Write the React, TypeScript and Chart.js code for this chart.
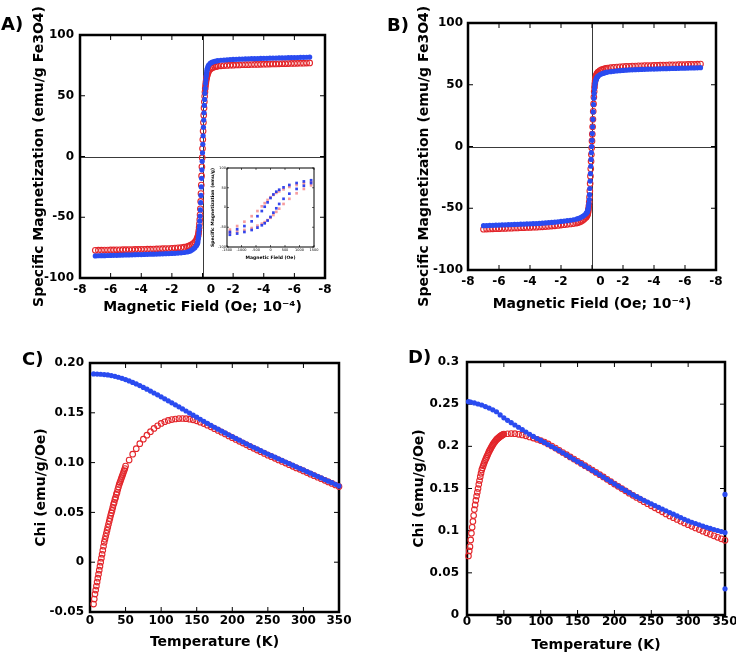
import React, { useEffect, useRef } from 'react';
import { Chart, registerables } from 'chart.js';

Chart.register(...registerables);

const FONT = 'DejaVu Sans';
const BLUE = '#2a4bf0';
const RED = '#e3262b';
const RED_INSET = 'rgba(240,90,95,0.6)';
const BLUE_INSET = 'rgba(30,50,235,0.9)';

// ---------- Panels A and B: field (x 10^4 Oe) ----------
const FIELD = [
  -7.0, -6.8, -6.6, -6.4, -6.2, -6.0, -5.8, -5.6, -5.4, -5.2, -5.0, -4.8, -4.6, -4.4, -4.2, -4.0,
  -3.8, -3.6, -3.4, -3.2, -3.0, -2.8, -2.6, -2.4, -2.2, -2.0, -1.8, -1.6, -1.4, -1.2, -1.0,
  -0.9, -0.8, -0.7, -0.6, -0.5, -0.4, -0.36, -0.32,
  -0.3, -0.28, -0.26, -0.24, -0.22, -0.2, -0.18, -0.16, -0.14, -0.12, -0.1, -0.08, -0.06, -0.04, -0.02,
  0, 0.02, 0.04, 0.06, 0.08, 0.1, 0.12, 0.14, 0.16, 0.18, 0.2, 0.22, 0.24, 0.26, 0.28, 0.3,
  0.32, 0.36, 0.4, 0.5, 0.6, 0.7, 0.8, 0.9,
  1.0, 1.2, 1.4, 1.6, 1.8, 2.0, 2.2, 2.4, 2.6, 2.8, 3.0, 3.2, 3.4, 3.6, 3.8, 4.0,
  4.2, 4.4, 4.6, 4.8, 5.0, 5.2, 5.4, 5.6, 5.8, 6.0, 6.2, 6.4, 6.6, 6.8, 7.0,
];

const A_BLUE = [
  -81.8, -81.7, -81.6, -81.6, -81.5, -81.4, -81.3, -81.3, -81.2, -81.1, -81.0, -81.0, -80.9, -80.8, -80.7, -80.7,
  -80.6, -80.5, -80.4, -80.4, -80.3, -80.2, -80.1, -80.0, -79.9, -79.8, -79.7, -79.5, -79.3, -79.0, -78.6,
  -78.2, -77.7, -77.0, -76.1, -75.0, -73.4, -72.5, -71.3,
  -70, -68, -66, -63, -60, -57, -53, -49, -44, -38, -32, -25, -18, -11, -4,
  3, 10, 17, 24, 30, 36, 42, 47, 52, 56, 60, 63, 66, 68, 70, 71.5,
  72.6, 74.2, 75.3, 76.6, 77.4, 77.9, 78.3, 78.6,
  78.9, 79.2, 79.4, 79.6, 79.8, 79.9, 80.0, 80.1, 80.2, 80.3, 80.4, 80.5, 80.5, 80.6, 80.7, 80.8,
  80.8, 80.9, 81.0, 81.0, 81.1, 81.2, 81.2, 81.3, 81.4, 81.4, 81.5, 81.6, 81.6, 81.7, 81.8,
];

const A_RED = [
  -77.2, -77.1, -77.1, -77.0, -77.0, -76.9, -76.9, -76.8, -76.8, -76.7, -76.7, -76.6, -76.6, -76.5, -76.5, -76.4,
  -76.4, -76.3, -76.3, -76.2, -76.1, -76.0, -75.9, -75.8, -75.7, -75.6, -75.4, -75.2, -75.0, -74.6, -74.1,
  -73.7, -73.2, -72.5, -71.6, -70.4, -68.8, -67.8, -66.6,
  -65.8, -64.6, -63, -61, -58.5, -55.5, -52, -48, -43, -37, -30.5, -23.5, -16, -8.5, -1,
  6.5, 14, 21, 28, 34, 40, 45, 49.5, 53, 56, 58.5, 60.8, 62.6, 64.2, 65.5, 66.6,
  67.5, 69.0, 70.2, 71.8, 72.8, 73.4, 73.8, 74.1,
  74.4, 74.6, 74.8, 75.0, 75.1, 75.2, 75.3, 75.4, 75.5, 75.6, 75.6, 75.7, 75.8, 75.8, 75.9, 76.0,
  76.0, 76.1, 76.2, 76.2, 76.3, 76.4, 76.4, 76.5, 76.6, 76.6, 76.7, 76.8, 76.8, 76.9, 77.0,
];

const B_BLUE = [
  -64.1, -64.0, -63.9, -63.8, -63.7, -63.6, -63.5, -63.4, -63.3, -63.2, -63.1, -63.0, -62.9, -62.8, -62.7, -62.6,
  -62.5, -62.4, -62.3, -62.1, -61.9, -61.7, -61.5, -61.3, -61.0, -60.7, -60.4, -60.1, -59.7, -59.3, -58.8,
  -58.4, -57.9, -57.3, -56.6, -55.7, -54.6, -54.0, -53.3,
  -52.8, -52, -51, -49.8, -48.2, -46, -43, -39, -34, -28, -22, -16, -10.5, -5, 0,
  5, 10.5, 16, 22, 28, 34, 39, 43, 46.5, 49, 51, 52.3, 53.3, 54.1, 54.8, 55.3,
  55.8, 56.5, 57.1, 58.0, 58.7, 59.2, 59.6, 60.0,
  60.3, 60.6, 60.9, 61.2, 61.4, 61.6, 61.8, 62.0, 62.1, 62.2, 62.3, 62.4, 62.5, 62.6, 62.7, 62.7,
  62.8, 62.9, 63.0, 63.0, 63.1, 63.2, 63.2, 63.3, 63.4, 63.4, 63.5, 63.6, 63.6, 63.7, 63.8,
];

const B_RED = [
  -67.0, -66.9, -66.8, -66.7, -66.6, -66.5, -66.4, -66.3, -66.2, -66.1, -66.0, -65.9, -65.8, -65.7, -65.6, -65.5,
  -65.4, -65.3, -65.2, -65.0, -64.8, -64.6, -64.4, -64.2, -63.9, -63.6, -63.3, -63.0, -62.7, -62.4, -62.0,
  -61.6, -61.1, -60.5, -59.7, -58.8, -57.5, -56.8, -55.9,
  -55.3, -54.5, -53.4, -52, -50.2, -48, -45, -41, -36, -30, -24, -18, -12, -6.5, -1,
  4.5, 10, 16, 22, 28.5, 34.5, 40, 44.5, 48, 50.8, 53, 54.6, 55.8, 56.8, 57.6, 58.2,
  58.8, 59.6, 60.3, 61.3, 62.0, 62.5, 62.9, 63.2,
  63.5, 63.8, 64.1, 64.3, 64.5, 64.7, 64.9, 65.0, 65.1, 65.2, 65.3, 65.4, 65.5, 65.6, 65.6, 65.7,
  65.8, 65.9, 65.9, 66.0, 66.1, 66.1, 66.2, 66.3, 66.3, 66.4, 66.5, 66.5, 66.6, 66.7, 66.8,
];

// ---------- Inset of panel A (Oe, emu/g) ----------
const INSET_FIELD_DOWN = [1400, 1150, 900, 650, 450, 300, 200, 100, 0, -100, -200, -300, -450, -650, -900, -1150, -1400];
const INSET_FIELD_UP = [-1400, -1150, -900, -650, -450, -300, -200, -100, 0, 100, 200, 300, 450, 650, 900, 1150, 1400];
const INSET_BLUE_DOWN = [69, 66, 62, 57, 51, 45, 40, 33, 24, 13, 2, -9, -22, -35, -47, -55, -62];
const INSET_BLUE_UP = [-69, -66, -62, -57, -51, -45, -40, -33, -24, -13, -2, 9, 22, 35, 47, 55, 62];
const INSET_RED_DOWN = [64, 61, 57, 52, 46, 41, 37, 32, 26, 19, 11, 3, -9, -22, -36, -47, -56];
const INSET_RED_UP = [-64, -61, -57, -52, -46, -41, -37, -32, -26, -19, -11, -3, 9, 22, 36, 47, 56];

// ---------- Panel C (Temperature K, chi) ----------
const C_T_FC = [
  5, 10, 15, 20, 25, 30, 35, 40, 45, 50, 55, 60, 65, 70, 75, 80, 85, 90, 95, 100,
  105, 110, 115, 120, 125, 130, 135, 140, 145, 150, 155, 160, 165, 170, 175, 180, 185, 190, 195, 200,
  205, 210, 215, 220, 225, 230, 235, 240, 245, 250, 255, 260, 265, 270, 275, 280, 285, 290, 295, 300,
  305, 310, 315, 320, 325, 330, 335, 340, 345, 350,
];
const C_FC = [
  0.1890, 0.1889, 0.1887, 0.1884, 0.1880, 0.1874, 0.1866, 0.1857, 0.1846, 0.1834,
  0.1820, 0.1805, 0.1790, 0.1773, 0.1755, 0.1737, 0.1718, 0.1699, 0.1680, 0.1660,
  0.1640, 0.1620, 0.1600, 0.1580, 0.1560, 0.1539, 0.1518, 0.1497, 0.1476, 0.1456,
  0.1435, 0.1414, 0.1394, 0.1374, 0.1355, 0.1336, 0.1317, 0.1298, 0.1279, 0.1261,
  0.1243, 0.1225, 0.1207, 0.1189, 0.1171, 0.1154, 0.1137, 0.1120, 0.1103, 0.1086,
  0.1070, 0.1054, 0.1038, 0.1022, 0.1006, 0.0990, 0.0974, 0.0958, 0.0942, 0.0926,
  0.0910, 0.0894, 0.0878, 0.0862, 0.0846, 0.0830, 0.0814, 0.0798, 0.0782, 0.0766,
];
const C_T_ZFC = [
  5, 6, 7, 8, 9, 10, 11, 12, 13, 14, 15, 16, 17, 18, 19, 20, 21, 22, 23, 24,
  25, 26, 27, 28, 29, 30, 31, 32, 33, 34, 35, 36, 37, 38, 39, 40, 41, 42, 43, 44,
  45, 46, 47, 48, 49, 50,
  55, 60, 65, 70, 75, 80, 85, 90, 95, 100, 105, 110, 115, 120, 125, 130, 135, 140, 145, 150,
  155, 160, 165, 170, 175, 180, 185, 190, 195, 200, 205, 210, 215, 220, 225, 230, 235, 240, 245, 250,
  255, 260, 265, 270, 275, 280, 285, 290, 295, 300, 305, 310, 315, 320, 325, 330, 335, 340, 345, 350,
];
const C_ZFC = [
  -0.042, -0.037, -0.032, -0.028, -0.024, -0.020, -0.016, -0.012, -0.008, -0.004,
  0.000, 0.004, 0.008, 0.012, 0.016, 0.020, 0.023, 0.026, 0.029, 0.032,
  0.035, 0.038, 0.041, 0.044, 0.047, 0.0495, 0.052, 0.055, 0.058, 0.060,
  0.063, 0.065, 0.068, 0.070, 0.073, 0.0755, 0.078, 0.080, 0.082, 0.084,
  0.086, 0.088, 0.090, 0.092, 0.094, 0.0965,
  0.1025, 0.1085, 0.1140, 0.1190, 0.1235, 0.1275, 0.1310, 0.1343, 0.1370, 0.1393,
  0.1410, 0.1423, 0.1432, 0.1438, 0.1442, 0.1443, 0.1441, 0.1436, 0.1429, 0.1419,
  0.1406, 0.1392, 0.1376, 0.1359, 0.1341, 0.1323, 0.1305, 0.1287, 0.1268, 0.1250,
  0.1232, 0.1214, 0.1196, 0.1178, 0.1160, 0.1143, 0.1126, 0.1109, 0.1092, 0.1075,
  0.1059, 0.1043, 0.1027, 0.1011, 0.0995, 0.0979, 0.0963, 0.0947, 0.0932, 0.0916,
  0.0900, 0.0884, 0.0869, 0.0853, 0.0838, 0.0822, 0.0806, 0.0791, 0.0775, 0.0759,
];

// ---------- Panel D (Temperature K, chi) ----------
const D_T_FC = [
  2, 5, 10, 15, 20, 25, 30, 35, 40, 45, 50, 55, 60, 65, 70, 75, 80, 85, 90, 95, 100,
  105, 110, 115, 120, 125, 130, 135, 140, 145, 150, 155, 160, 165, 170, 175, 180, 185, 190, 195, 200,
  205, 210, 215, 220, 225, 230, 235, 240, 245, 250, 255, 260, 265, 270, 275, 280, 285, 290, 295, 300,
  305, 310, 315, 320, 325, 330, 335, 340, 345, 350, 350, 350,
];
const D_FC = [
  0.2530, 0.2525, 0.2515, 0.2502, 0.2490, 0.2472, 0.2454, 0.2433, 0.2410, 0.2373, 0.2338,
  0.2308, 0.2280, 0.2253, 0.2226, 0.2198, 0.2170, 0.2143, 0.2117, 0.2093, 0.2070,
  0.2046, 0.2022, 0.1998, 0.1974, 0.1950, 0.1924, 0.1898, 0.1872, 0.1846, 0.1820,
  0.1794, 0.1768, 0.1742, 0.1716, 0.1690, 0.1663, 0.1636, 0.1609, 0.1582, 0.1555,
  0.1529, 0.1503, 0.1477, 0.1451, 0.1425, 0.1403, 0.1382, 0.1360, 0.1339, 0.1318,
  0.1297, 0.1277, 0.1256, 0.1236, 0.1215, 0.1195, 0.1175, 0.1155, 0.1135, 0.1116,
  0.1100, 0.1085, 0.1070, 0.1055, 0.1040, 0.1027, 0.1014, 0.1002, 0.0989, 0.0977, 0.143, 0.031,
];
const D_T_ZFC = [
  2, 3, 4, 5, 6, 7, 8, 9, 10, 11, 12, 13, 14, 15, 16, 17, 18, 19, 20, 21,
  22, 23, 24, 25, 26, 27, 28, 29, 30, 31, 32, 33, 34, 35, 36, 37, 38, 39, 40, 41,
  42, 43, 44, 45, 46, 47, 48, 49, 50,
  55, 60, 65, 70, 75, 80, 85, 90, 95, 100, 105, 110, 115, 120, 125, 130, 135, 140, 145, 150,
  155, 160, 165, 170, 175, 180, 185, 190, 195, 200, 205, 210, 215, 220, 225, 230, 235, 240, 245, 250,
  255, 260, 265, 270, 275, 280, 285, 290, 295, 300, 305, 310, 315, 320, 325, 330, 335, 340, 345, 350,
];
const D_ZFC = [
  0.070, 0.076, 0.081, 0.089, 0.097, 0.104, 0.111, 0.118, 0.125, 0.1305,
  0.136, 0.141, 0.1455, 0.150, 0.155, 0.1595, 0.164, 0.168, 0.172, 0.1745,
  0.177, 0.1795, 0.182, 0.184, 0.186, 0.188, 0.190, 0.192, 0.194, 0.1956,
  0.1972, 0.1988, 0.2004, 0.202, 0.2033, 0.2045, 0.2057, 0.2069, 0.208, 0.2088,
  0.2096, 0.2103, 0.211, 0.2117, 0.2123, 0.2129, 0.2135, 0.214, 0.2145,
  0.2149, 0.2151, 0.2150, 0.2142, 0.2135, 0.2125, 0.2112, 0.2098, 0.2083, 0.2068,
  0.2050, 0.2028, 0.2004, 0.1979, 0.1953, 0.1927, 0.1901, 0.1875, 0.1849, 0.1823,
  0.1797, 0.1771, 0.1745, 0.1718, 0.1691, 0.1664, 0.1637, 0.1609, 0.1581, 0.1553,
  0.1526, 0.1499, 0.1472, 0.1445, 0.1419, 0.1394, 0.1369, 0.1344, 0.1319, 0.1295,
  0.1271, 0.1247, 0.1223, 0.1199, 0.1175, 0.1154, 0.1133, 0.1112, 0.1091, 0.1070,
  0.1051, 0.1032, 0.1013, 0.0994, 0.0975, 0.0957, 0.0939, 0.0921, 0.0903, 0.0885,
];

// ---------- helpers ----------
function pts(xs: number[], ys: number[]) {
  const n = Math.min(xs.length, ys.length);
  const out: { x: number; y: number }[] = [];
  for (let i = 0; i < n; i++) out.push({ x: xs[i], y: ys[i] });
  return out;
}

function filled(data: any, color: string, r: number, style = 'circle') {
  return {
    data, showLine: false, clip: false, pointStyle: style, pointRadius: r,
    pointBackgroundColor: color, pointBorderColor: color, pointBorderWidth: 0,
  };
}
function ring(data: any, color: string, r: number, w: number) {
  return {
    data, showLine: false, clip: false, pointStyle: 'circle', pointRadius: r,
    pointBackgroundColor: 'rgba(255,255,255,0)', pointBorderColor: color, pointBorderWidth: w,
  };
}

const framePlugin = {
  id: 'frame',
  beforeDatasetsDraw(chart: any, _args: any, o: any) {
    const { ctx, chartArea: a } = chart;
    const x = chart.scales.x;
    const y = chart.scales.y;
    ctx.save();
    if (o.zero) {
      ctx.strokeStyle = '#3a3a3a';
      ctx.lineWidth = 1;
      ctx.beginPath();
      const px = Math.round(x.getPixelForValue(0)) + 0.5;
      const py = Math.round(y.getPixelForValue(0)) + 0.5;
      ctx.moveTo(px, a.top); ctx.lineTo(px, a.bottom);
      ctx.moveTo(a.left, py); ctx.lineTo(a.right, py);
      ctx.stroke();
    }
    ctx.strokeStyle = '#000';
    ctx.lineWidth = o.tickWidth;
    ctx.beginPath();
    for (const t of x.ticks) {
      const p = x.getPixelForValue(t.value);
      ctx.moveTo(p, a.bottom); ctx.lineTo(p, a.bottom - o.tickLen);
      ctx.moveTo(p, a.top); ctx.lineTo(p, a.top + o.tickLen);
    }
    for (const t of y.ticks) {
      const p = y.getPixelForValue(t.value);
      ctx.moveTo(a.left, p); ctx.lineTo(a.left + o.tickLen, p);
      ctx.moveTo(a.right, p); ctx.lineTo(a.right - o.tickLen, p);
    }
    ctx.stroke();
    ctx.lineWidth = o.border;
    ctx.strokeRect(a.left, a.top, a.right - a.left, a.bottom - a.top);
    ctx.restore();
  },
};

function xAxis(o: any) {
  return {
    type: 'linear', position: 'bottom', min: o.min, max: o.max,
    grid: { display: false, drawTicks: false, tickLength: 0 }, border: { display: false },
    ticks: {
      stepSize: o.step, autoSkip: false, maxRotation: 0, minRotation: 0, padding: o.tickPad,
      color: '#000', font: { family: FONT, size: o.tickSize, weight: o.tickWeight || 'bold' }, callback: o.fmt,
    },
    title: {
      display: true, text: o.title, color: '#000',
      font: { family: FONT, size: o.titleSize, weight: 'bold' }, padding: { top: 0, bottom: o.titlePad },
    },
    afterFit: (s: any) => { s.height = o.size; s.paddingLeft = 0; s.paddingRight = 0; },
  };
}
function yAxis(o: any) {
  return {
    type: 'linear', position: 'left', min: o.min, max: o.max,
    grid: { display: false, drawTicks: false, tickLength: 0 }, border: { display: false },
    ticks: {
      stepSize: o.step, autoSkip: false, padding: o.tickPad,
      color: '#000', font: { family: FONT, size: o.tickSize, weight: o.tickWeight || 'bold' }, callback: o.fmt,
    },
    title: {
      display: true, text: o.title, color: '#000',
      font: { family: FONT, size: o.titleSize, weight: 'bold' }, padding: { top: o.titlePad, bottom: 0 },
    },
    afterFit: (s: any) => { s.width = o.size; s.paddingTop = 0; s.paddingBottom = 0; },
  };
}

function config(datasets: any[], x: any, y: any, padding: any, frame: any) {
  return {
    type: 'scatter',
    data: { datasets },
    options: {
      responsive: false, animation: false, events: [],
      layout: { padding },
      plugins: { legend: { display: false }, tooltip: { enabled: false }, frame },
      scales: { x, y },
    },
    plugins: [framePlugin],
  };
}

const fieldFmt = (v: number) => (v === 0 ? '    0' : '-' + Math.abs(v));
const plainFmt = (v: number) => String(v);
const chiFmt2 = (v: number) => (Math.abs(v) < 1e-9 ? '0' : v.toFixed(2));
const chiFmt = (v: number) => (Math.abs(v) < 1e-9 ? '0' : String(Math.round(v * 100) / 100));

const X_TITLE_FIELD = 'Magnetic Field (Oe; 10\u207B\u2074)';
const Y_TITLE_MAG = 'Specific Magnetization (emu/g Fe3O4)';

function makeA() {
  return config(
    [filled(pts(FIELD, A_BLUE), BLUE, 2.6), ring(pts(FIELD, A_RED), RED, 2.8, 1.1)],
    xAxis({ min: -8, max: 8, step: 2, tickPad: 5, tickSize: 12, fmt: fieldFmt, title: X_TITLE_FIELD, titleSize: 14, titlePad: 4, size: 42 }),
    yAxis({ min: -100, max: 100, step: 50, tickPad: 6, tickSize: 12, fmt: plainFmt, title: Y_TITLE_MAG, titleSize: 14, titlePad: 31, size: 80 }),
    { left: 0, top: 35, right: 43, bottom: 0 },
    { zero: true, border: 2.5, tickLen: 5, tickWidth: 1 },
  );
}

function makeInset() {
  return config(
    [
      filled(pts(INSET_FIELD_DOWN, INSET_BLUE_DOWN), BLUE_INSET, 1.9, 'rect'),
      filled(pts(INSET_FIELD_UP, INSET_BLUE_UP), BLUE_INSET, 1.9, 'rect'),
      filled(pts(INSET_FIELD_DOWN, INSET_RED_DOWN), RED_INSET, 1.9, 'rect'),
      filled(pts(INSET_FIELD_UP, INSET_RED_UP), RED_INSET, 1.9, 'rect'),
    ],
    xAxis({ min: -1500, max: 1500, step: 500, tickPad: 1.4, tickSize: 3.5, tickWeight: 'normal', fmt: plainFmt, title: 'Magnetic Field (Oe)', titleSize: 4.5, titlePad: 3.8, size: 17 }),
    yAxis({ min: -100, max: 100, step: 50, tickPad: 1, tickSize: 3.5, tickWeight: 'normal', fmt: plainFmt, title: 'Specific Magnetization (emu/g)', titleSize: 4.5, titlePad: 10.3, size: 27 }),
    { left: 0, top: 8, right: 8, bottom: 0 },
    { zero: false, border: 1, tickLen: 2, tickWidth: 0.6 },
  );
}

function makeB() {
  return config(
    [filled(pts(FIELD, B_BLUE), BLUE, 2.6), ring(pts(FIELD, B_RED), RED, 2.8, 1.1)],
    xAxis({ min: -8, max: 8, step: 2, tickPad: 5, tickSize: 12, fmt: fieldFmt, title: X_TITLE_FIELD, titleSize: 14, titlePad: 7, size: 50 }),
    yAxis({ min: -100, max: 100, step: 50, tickPad: 5, tickSize: 12, fmt: plainFmt, title: Y_TITLE_MAG + '    ', titleSize: 14, titlePad: 48, size: 100 }),
    { left: 0, top: 23, right: 20, bottom: 0 },
    { zero: true, border: 2.5, tickLen: 5, tickWidth: 1 },
  );
}

function makeC() {
  return config(
    [filled(pts(C_T_FC, C_FC), BLUE, 2.6), ring(pts(C_T_ZFC, C_ZFC), RED, 2.8, 1.1)],
    xAxis({ min: 0, max: 350, step: 50, tickPad: 2, tickSize: 12, fmt: plainFmt, title: 'Temperature (K)', titleSize: 14, titlePad: 3, size: 42 }),
    yAxis({ min: -0.05, max: 0.2, step: 0.05, tickPad: 6, tickSize: 12, fmt: chiFmt2, title: 'Chi (emu/g/Oe)', titleSize: 14, titlePad: 33, size: 90 }),
    { left: 0, top: 43, right: 29, bottom: 0 },
    { zero: false, border: 2.5, tickLen: 5, tickWidth: 1 },
  );
}

function makeD() {
  return config(
    [filled(pts(D_T_FC, D_FC), BLUE, 2.6), ring(pts(D_T_ZFC, D_ZFC), RED, 2.8, 1.1)],
    xAxis({ min: 0, max: 350, step: 50, tickPad: 0, tickSize: 12, fmt: plainFmt, title: 'Temperature (K)', titleSize: 14, titlePad: 0, size: 39 }),
    yAxis({ min: 0, max: 0.3, step: 0.05, tickPad: 8, tickSize: 12, fmt: chiFmt, title: 'Chi (emu/g/Oe)', titleSize: 14, titlePad: 43, size: 99 }),
    { left: 0, top: 42, right: 11, bottom: 0 },
    { zero: false, border: 2.5, tickLen: 5, tickWidth: 1 },
  );
}

function Panel({ left, top, width, height, make }: any) {
  const ref = useRef<HTMLCanvasElement>(null);
  useEffect(() => {
    const chart = new Chart(ref.current as HTMLCanvasElement, make() as any);
    return () => chart.destroy();
  }, []);
  return (
    <canvas
      ref={ref}
      width={width}
      height={height}
      style={{ position: 'absolute', left, top, width, height, display: 'block' }}
    />
  );
}

function Label({ left, top, text }: any) {
  return (
    <div
      style={{
        position: 'absolute', left, top, margin: 0, padding: 0,
        font: `bold 18px "${FONT}"`, lineHeight: '18px', color: '#000', whiteSpace: 'nowrap',
      }}
    >
      {text}
    </div>
  );
}

export default function App() {
  return (
    <div
      style={{
        position: 'fixed', left: 0, top: 0, width: 736, height: 654,
        background: '#fff', overflow: 'hidden',
      }}
    >
      <Panel left={0} top={0} width={368} height={320} make={makeA} />
      <Panel left={200} top={160} width={122} height={104} make={makeInset} />
      <Panel left={368} top={0} width={368} height={320} make={makeB} />
      <Panel left={0} top={320} width={368} height={334} make={makeC} />
      <Panel left={368} top={320} width={368} height={334} make={makeD} />
      <Label left={1} top={15} text="A)" />
      <Label left={387} top={16} text="B)" />
      <Label left={22} top={350} text="C)" />
      <Label left={408} top={348} text="D)" />
    </div>
  );
}
